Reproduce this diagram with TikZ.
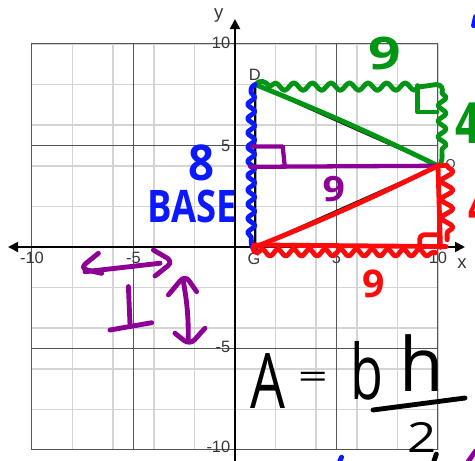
\documentclass[tikz,border=0pt]{standalone}
\usepackage{fontspec}
\setmainfont{Liberation Sans}
\newfontfamily\handfont{Open Sans}
\usepackage{graphicx}
\usetikzlibrary{arrows.meta,decorations.pathmorphing}

\definecolor{penGreen}{RGB}{0,150,20}
\definecolor{penBlue}{RGB}{10,25,255}
\definecolor{penPurple}{RGB}{140,0,150}
\definecolor{penRed}{RGB}{255,10,10}
\definecolor{minorGray}{RGB}{212,212,212}
\definecolor{majorGray}{RGB}{85,85,85}
\definecolor{labelGray}{RGB}{55,55,55}

\begin{document}
\begin{tikzpicture}[x=0.5cm,y=0.5cm,
    pen/.style={line width=3.4pt,line cap=round,line join=round},
    wavy/.style n args={2}{decorate,decoration={snake,amplitude=#1,segment length=#2}},
    tick/.style={font=\fontsize{11.5}{12}\selectfont,text=labelGray,inner sep=0pt},
    hand/.style={inner sep=0pt,font=\handfont\bfseries}]
  \useasboundingbox (-11.576,-10.542) rectangle (11.823,12.167);
  \clip (-11.576,-10.542) rectangle (11.823,12.167);
  \fill[white] (-11.576,-10.542) rectangle (11.823,12.167);

  % grid
  \draw[minorGray,line width=1pt] (-10,-10) grid (10,10);
  \foreach \v in {-5,5} {
    \draw[majorGray,line width=0.6pt] (\v,-10) -- (\v,10);
    \draw[majorGray,line width=0.6pt] (-10,\v) -- (10,\v);
  }
  \draw[majorGray,line width=0.7pt] (-10,-10) rectangle (10,10);

  % axes
  \coordinate (xmin) at (-11.18,0);
  \coordinate (xmax) at (11.33,0);
  \coordinate (ymin) at (0,-11);
  \coordinate (ymax) at (0,11.23);
  \draw[line width=1.4pt,{Triangle[length=7pt,width=7pt]}-{Triangle[length=7pt,width=7pt]}] (xmin) -- (xmax);
  \draw[line width=1.4pt,-{Triangle[length=7pt,width=7pt]}] (ymin) -- (ymax);
  \node[tick,font=\fontsize{13}{13}\selectfont] (ylab) at (-0.8,11.4) {y};
  \node[tick,font=\fontsize{13}{13}\selectfont] (xlab) at (11.18,-0.8) {x};
  \foreach \x in {-10,-5,5,10}
    \node[tick] (xt\x) at (\x,-0.55) {\x};
  \foreach \y/\s in {-10/0.15,-5/0.07,5/0,10/0.05}
    \node[tick,anchor=east] (yt\y) at (-0.22,\y+\s) {\y};

  % triangle
  \coordinate (D) at (1,8);
  \coordinate (G) at (1,0);
  \coordinate (O) at (10,4);
  \node[tick] (Dlab) at (0.98,8.5) {D};
  \node[tick] (Glab) at (0.94,-0.6) {G};
  \node[tick,font=\fontsize{9}{9}\selectfont] (Olab) at (10.62,4.1) {O};
  \draw[line width=1.5pt] (D) -- (O) -- (G) -- cycle;

  % green: top side and height 4
  \draw[pen,penGreen] (D) to[bend left=2] (O);
  \draw[pen,penGreen] (D) .. controls (1.2,8.25) and (1.5,8.2) .. (1.7,7.9);
  \draw[pen,penGreen,wavy={2.6pt}{13pt}] (1.7,7.9) -- (9.2,7.9);
  \draw[pen,penGreen] (9.2,7.9) -- (9.9,8.0) .. controls (10.2,8.0) and (10.25,7.8) .. (10.2,7.6);
  \draw[pen,penGreen,wavy={2.8pt}{11pt}] (10.2,7.6) -- (10.2,4.5);
  \draw[pen,penGreen] (10.2,4.5) .. controls (10.2,4.15) and (10.1,4.0) .. (O);
  \draw[pen,penGreen] (9.0,7.95) -- (9.0,6.65) -- (9.95,6.65);
  \node[hand,text=penGreen] (greennine) at (7.39,9.51) {\resizebox{0.8cm}{0.8cm}{9}};
  \node[hand,text=penGreen] (greenfour) at (11.45,6.1) {\resizebox{0.6cm}{1cm}{4}};

  % blue: base 8
  \draw[pen,penBlue] (D) .. controls (0.85,7.95) and (0.75,7.8) .. (0.8,7.6);
  \draw[pen,penBlue,wavy={2.5pt}{10pt}] (0.8,7.6) -- (0.8,0.3);
  \draw[pen,penBlue] (0.8,0.3) .. controls (0.8,0.0) and (0.9,-0.15) .. (1.05,-0.1);
  \node[hand,text=penBlue] (blueeight) at (-1.64,4.12) {\resizebox{0.64cm}{0.88cm}{8}};
  \node[hand,text=penBlue] (base) at (-2.12,2.02) {\resizebox{2.2cm}{0.8cm}{BASE}};

  % purple: height line
  \draw[pen,penPurple,line width=3pt] (0.75,3.95) -- (O);
  \draw[pen,penPurple,line width=3pt] (0.85,4.95) -- (2.35,4.95) -- (2.45,4.0);
  \node[hand,text=penPurple] (purplenine) at (4.87,2.83) {\resizebox{0.55cm}{0.62cm}{9}};

  % red: bottom side and height 4
  \draw[pen,penRed] (G) to[bend right=2] (O);
  \draw[pen,penRed] (0.95,0.1) -- (10.4,0.02);
  \draw[pen,penRed] (1.1,-0.28) .. controls (0.85,-0.3) and (0.85,0.05) .. (0.95,0.1);
  \draw[pen,penRed,wavy={2.4pt}{11pt}] (1.1,-0.28) -- (9.9,-0.28);
  \draw[pen,penRed] (O) -- (10.12,-0.02);
  \draw[pen,penRed] (O) -- (10.45,4.0);
  \draw[pen,penRed,wavy={4pt}{13pt}] (10.45,4.0) -- (10.45,0.35);
  \draw[pen,penRed,rounded corners=3pt] (9.1,0.05) -- (9.1,0.6) -- (10.05,0.6);
  \node[hand,text=penRed] (rednine) at (6.85,-1.82) {\resizebox{0.55cm}{0.68cm}{9}};
  \node[hand,text=penRed] (redfour) at (12.05,2.0) {\resizebox{0.55cm}{1cm}{4}};

  % purple arrows and perpendicular sign
  \draw[pen,penPurple,rounded corners=5pt] (-6.73,-0.31) -- (-7.64,-1.05) -- (-6.57,-1.3);
  \draw[pen,penPurple] (-7.39,-1.22) -- (-3.69,-0.8);
  \draw[pen,penPurple,rounded corners=5pt] (-4.02,-0.15) -- (-3.04,-0.72) -- (-3.94,-1.43);
  \draw[pen,penPurple] (-5.25,-1.95) -- (-5.17,-3.84);
  \draw[pen,penPurple] (-6.16,-4.09) -- (-4.1,-3.73);
  \draw[pen,penPurple] (-2.54,-1.71) to[bend left=5] (-2.3,-4.58);
  \draw[pen,penPurple,rounded corners=5pt] (-3.28,-2.36) -- (-2.46,-1.38) -- (-1.89,-2.2);
  \draw[pen,penPurple,rounded corners=5pt] (-2.96,-4.25) -- (-2.22,-4.83) -- (-1.48,-4.0);

  % area formula
  \node[hand,font=\handfont] (areaA) at (1.6,-6.58) {\resizebox{0.86cm}{1.355cm}{A}};
  \node[hand,font=\handfont] (equals) at (3.84,-6.55) {\resizebox{0.74cm}{0.4cm}{=}};
  \node[hand,font=\handfont] (letterb) at (6.48,-6.11) {\resizebox{0.81cm}{1.43cm}{b}};
  \node[hand,font=\handfont] (letterh) at (9.19,-5.74) {\resizebox{1.09cm}{1.4cm}{h}};
  \node[hand,font=\handfont] (two) at (9.24,-9.36) {\resizebox{0.72cm}{0.74cm}{2}};
  \coordinate (barL) at (6.8,-8.03);
  \coordinate (barR) at (11.33,-7.44);
  \draw[pen] (barL) -- (barR);

  % clipped marks at the edges
  \draw[pen,penBlue] (5.1,-10.7) -- (5.25,-10.35);
  \draw[pen] (9.75,-10.7) -- (9.92,-10.2);
  \draw[pen,penPurple] (11.4,-10.7) -- (11.85,-10.05);
  \draw[pen,penBlue] (11.75,10.9) -- (11.85,11.35);
\end{tikzpicture}
\end{document}
